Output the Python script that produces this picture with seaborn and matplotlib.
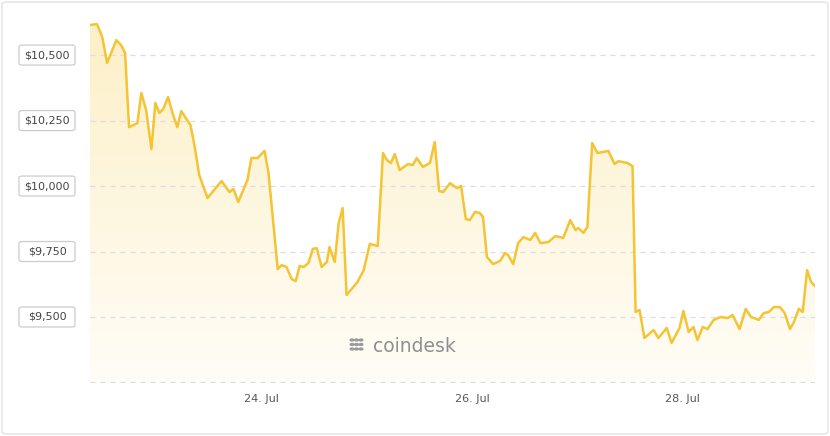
import matplotlib.pyplot as plt
import seaborn as sns
import numpy as np
import pandas as pd
from matplotlib.patches import FancyBboxPatch
from matplotlib.colors import LinearSegmentedColormap

# hours since 22 Jul 00:00, BTC price in USD
hours = [8.9, 10.5, 11.7, 12.8, 14.9, 16.0, 16.9, 17.8, 19.7, 20.6, 21.7, 22.9, 23.8, 24.7, 25.6,
         26.7, 27.7, 28.8, 29.7, 31.8, 32.7, 33.8, 35.7, 36.8, 38.9, 40.7, 41.6, 42.7, 44.8, 45.7,
         47.1, 48.7, 49.6, 51.7, 52.6, 53.7, 54.9, 55.8, 56.7, 57.6, 58.7, 59.7, 60.6, 61.7, 62.9,
         63.5, 64.7, 65.6, 66.5, 67.4, 69.9, 71.3, 72.7, 74.5, 75.7, 76.6, 77.5, 78.4, 79.5, 81.4,
         82.5, 83.4, 84.8, 86.4, 87.5, 88.5, 89.4, 91.0, 92.6, 93.5, 94.6, 95.5, 96.7, 97.8, 98.5,
         99.4, 100.8, 102.4, 103.5, 104.2, 105.4, 106.5, 107.7, 109.3, 110.4, 111.6, 113.4, 115.0,
         116.8, 118.4, 119.6, 120.2, 121.4, 122.3, 123.4, 124.6, 127.1, 128.5, 129.4, 131.4, 132.6,
         133.3, 134.2, 135.3, 137.4, 138.5, 140.4, 141.5, 143.3, 144.2, 145.4, 146.5, 147.4, 148.6,
         149.7, 151.1, 152.7, 154.3, 155.4, 157.0, 158.4, 159.6, 161.4, 162.5, 163.7, 164.8, 166.2,
         167.3, 168.5, 169.4, 170.5, 171.4, 172.4, 173.3, 174.2]
price = [10615, 10618, 10569, 10470, 10557, 10538, 10508, 10225, 10240, 10355, 10290, 10141, 10317,
         10279, 10294, 10340, 10279, 10225, 10286, 10233, 10157, 10042, 9954, 9977, 10019, 9977, 9989,
         9939, 10023, 10107, 10107, 10134, 10050, 9683, 9698, 9691, 9645, 9637, 9695, 9691, 9706, 9760,
         9763, 9691, 9710, 9767, 9710, 9859, 9916, 9584, 9634, 9679, 9779, 9771, 10126, 10099, 10088,
         10122, 10061, 10084, 10080, 10107, 10073, 10088, 10168, 9981, 9977, 10011, 9992, 10000, 9874,
         9870, 9901, 9897, 9882, 9729, 9702, 9714, 9744, 9737, 9702, 9782, 9805, 9794, 9821, 9782, 9786,
         9809, 9802, 9870, 9832, 9840, 9821, 9844, 10164, 10126, 10134, 10084, 10095, 10088, 10076, 9519,
         9527, 9420, 9450, 9420, 9458, 9401, 9458, 9523, 9443, 9462, 9412, 9462, 9454, 9489, 9500, 9496,
         9508, 9454, 9531, 9500, 9489, 9515, 9519, 9538, 9538, 9515, 9454, 9481, 9531, 9519, 9679, 9634,
         9618]
y_ticks = [9500, 9750, 10000, 10250, 10500]
x_ticks = [48, 96, 144]
x_labels = ['24. Jul', '26. Jul', '28. Jul']

df = pd.DataFrame({'hours': hours, 'price': price})
line_color = '#F4C433'

sns.set_style('white')
plt.rcParams['font.family'] = ['DejaVu Sans']
fig = plt.figure(figsize=(8.3, 4.36), dpi=100)
ax = fig.add_axes([90 / 830, 1 - 383 / 436, 725 / 830, 368 / 436])

ymin, ymax = 9248, 10653
# soft gradient fill under the line
cmap = LinearSegmentedColormap.from_list('g', ['#ffffff', '#fdf0c8'])
grad = np.linspace(1.0, 0.15, 256).reshape(-1, 1)
img = ax.imshow(grad, cmap=cmap, vmin=0, vmax=1, aspect='auto',
                extent=[hours[0], hours[-1], ymin, max(price)], origin='upper', zorder=1)
poly = ax.fill_between(df['hours'], df['price'], ymin, color='none')
img.set_clip_path(poly.get_paths()[0], transform=ax.transData)

sns.lineplot(data=df, x='hours', y='price', color=line_color, linewidth=1.8, ax=ax, zorder=3)

ax.set_xlim(hours[0], hours[-1])
ax.set_ylim(ymin, ymax)
for v in [9250] + y_ticks:
    ax.axhline(v, color='#dddddd', linestyle=(0, (4, 4)), linewidth=0.9, zorder=2)
ax.set_yticks([])
ax.set_xticks(x_ticks)
ax.set_xticklabels(x_labels, fontsize=8, color='#555555')
ax.tick_params(axis='x', length=0, pad=8)
ax.set_xlabel('')
ax.set_ylabel('')
for s in ax.spines.values():
    s.set_visible(False)

# boxed y labels
for v in y_ticks:
    yf = ax.transData.transform((0, v))[1] / (fig.dpi * 4.36)
    fig.patches.append(FancyBboxPatch((19 / 830, yf - 10 / 436), 56 / 830, 20 / 436,
                                      boxstyle='round,pad=0,rounding_size=0.004',
                                      transform=fig.transFigure, facecolor='white',
                                      edgecolor='#cccccc', linewidth=0.9))
    fig.text(47 / 830, yf, f'${v:,}', ha='center', va='center', fontsize=8, color='#444444')

# watermark
for i in range(3):
    for j in range(3):
        fig.patches.append(plt.Circle(((352 + i * 4.5) / 830, 1 - (340 + j * 4.5) / 436), 1.8 / 830,
                                      transform=fig.transFigure, color='#9a9a9a'))
fig.text(373 / 830, 1 - 347 / 436, 'coindesk', fontsize=13.5, color='#8f8f8f', va='center', ha='left')

# outer frame
fig.patches.append(FancyBboxPatch((2 / 830, 2 / 436), 826 / 830, 432 / 436,
                                  boxstyle='round,pad=0,rounding_size=0.006', transform=fig.transFigure,
                                  facecolor='none', edgecolor='#e2e2e2', linewidth=1))
fig.savefig('out.png', dpi=100)
